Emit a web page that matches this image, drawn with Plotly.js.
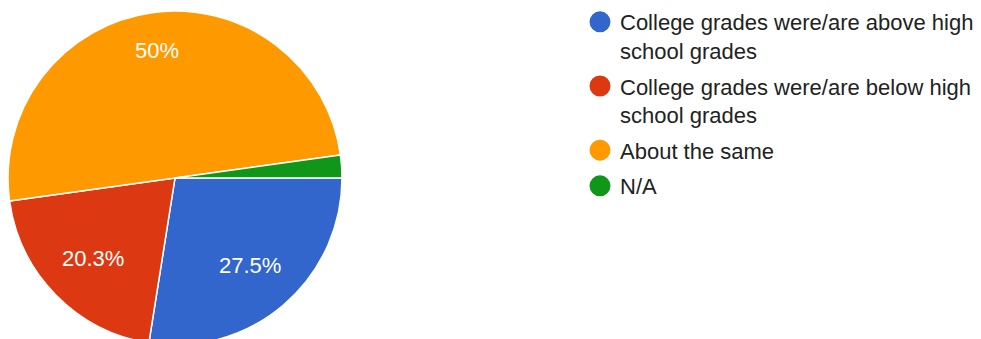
<!DOCTYPE html>
<html>
<head>
<meta charset="utf-8">
<script src="https://cdn.plot.ly/plotly-3.0.1.min.js"></script>
<style>
html, body { margin: 0; padding: 0; overflow: hidden; background: #fff; }
#chart { width: 981px; height: 360px; }
</style>
</head>
<body>
<div id="chart"></div>
<script>
// Data
const categories = [
  "College grades were/are above high school grades",
  "College grades were/are below high school grades",
  "About the same",
  "N/A"
];
const legendLabels = [
  "College grades were/are above high<br>school grades",
  "College grades were/are below high<br>school grades",
  "About the same",
  "N/A"
];
const percentages = [27.5, 20.3, 50, 2.2];
const colors = ["#3366cc", "#dc3912", "#ff9900", "#109618"];

// Geometry / style
const W = 981, H = 360;
const CX = 175, CY = 178, R = 167;      // pie centre and radius in pixels
const START_DEG = 0;                      // first slice starts at 3 o'clock, clockwise
const labelFont = { family: "Arial, 'Liberation Sans', sans-serif", size: 22, color: "#ffffff" };

const pie = {
  type: "pie",
  labels: categories,
  values: percentages,
  textinfo: "none",
  sort: false,
  direction: "clockwise",
  rotation: 90,
  marker: { colors: colors, line: { color: "#ffffff", width: 1.5 } },
  domain: { x: [(CX - R) / W, (CX + R) / W], y: [(H - CY - R) / H, (H - CY + R) / H] },
  showlegend: false,
  hoverinfo: "label+percent"
};

// Slice labels placed at each slice's mid-angle (Google-charts style)
const total = percentages.reduce((a, b) => a + b, 0);
const annotations = [];
let cum = 0;
percentages.forEach((v, i) => {
  const mid = cum + v / 2;
  cum += v;
  if (v < 5) return;
  const theta = (START_DEG + 360 * mid / total) * Math.PI / 180;
  const f = v >= 40 ? 0.77 : 0.69;
  const px = CX + R * f * Math.cos(theta);
  const py = CY + R * f * Math.sin(theta);
  annotations.push({
    xref: "paper", yref: "paper",
    x: px / W, y: 1 - py / H,
    xanchor: "center", yanchor: "middle",
    text: v + "%",
    showarrow: false,
    font: labelFont
  });
});

const legendTraces = legendLabels.map((name, i) => ({
  type: "scatter",
  mode: "markers",
  x: [null],
  y: [null],
  name: name,
  legendgroup: "g" + i,
  marker: { color: colors[i], size: 16, symbol: "circle", line: { color: colors[i], width: 5 } },
  showlegend: true,
  hoverinfo: "skip"
}));

const layout = {
  width: W,
  height: H,
  margin: { l: 0, r: 0, t: 0, b: 0 },
  paper_bgcolor: "#ffffff",
  plot_bgcolor: "#ffffff",
  xaxis: { visible: false, domain: [0.9, 1] },
  yaxis: { visible: false, domain: [0.9, 1] },
  annotations: annotations,
  showlegend: true,
  legend: {
    x: 580 / W,
    xanchor: "left",
    y: 1 - 1 / H,
    yanchor: "top",
    traceorder: "grouped",
    tracegroupgap: 4,
    valign: "top",
    font: { family: "Arial, 'Liberation Sans', sans-serif", size: 22, color: "#222222" },
    bgcolor: "rgba(0,0,0,0)"
  }
};

Plotly.newPlot("chart", [pie].concat(legendTraces), layout, { staticPlot: true, displayModeBar: false });
</script>
</body>
</html>
